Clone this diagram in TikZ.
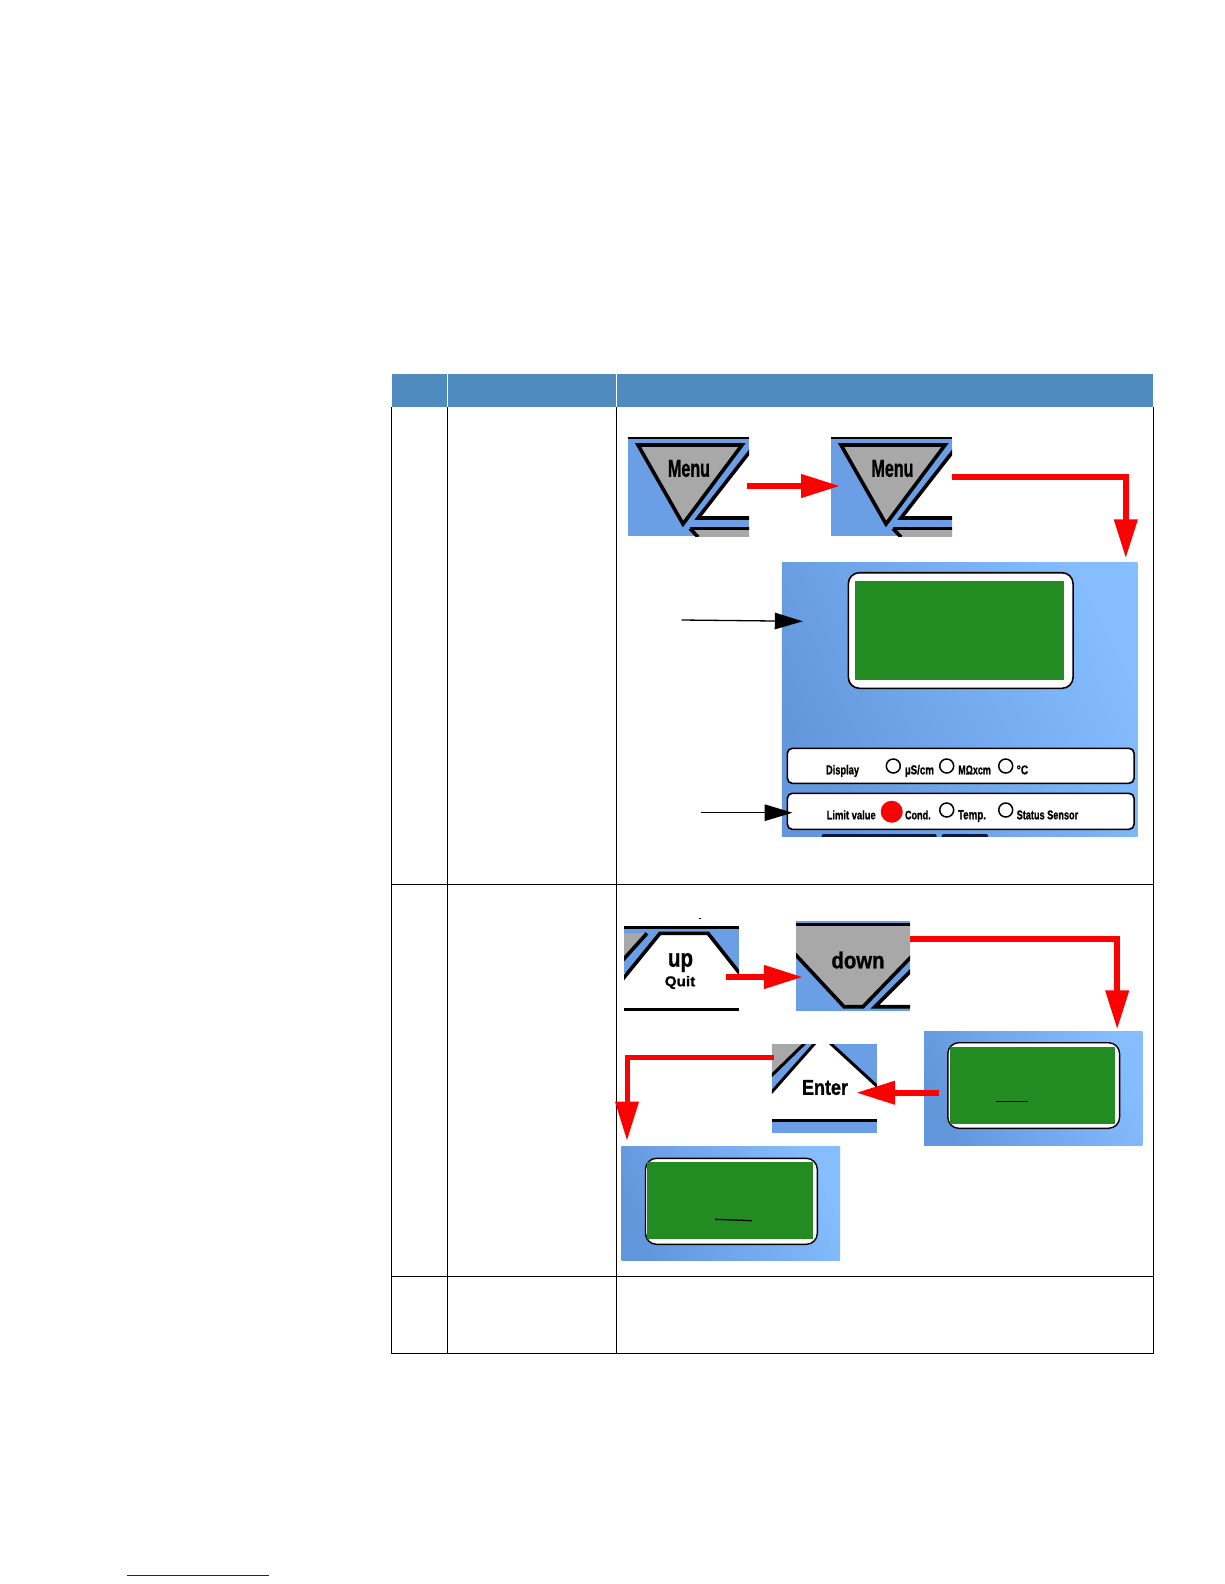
\documentclass[tikz,border=0pt]{standalone}
\usepackage{fontspec}
\setmainfont[BoldFeatures={FakeBold=1.2}]{Liberation Sans}
\usetikzlibrary{arrows.meta}
\definecolor{hdr}{HTML}{4F8BBE}
\definecolor{pb}{HTML}{6A9FE6}
\definecolor{pbA}{HTML}{6397DC}
\definecolor{pbB}{HTML}{70A6F6}
\definecolor{pbC}{HTML}{85BDFF}
\definecolor{gy}{HTML}{A8A8A8}
\definecolor{gn}{HTML}{228B22}
\definecolor{ln}{HTML}{1A1A8C}
\definecolor{stub}{HTML}{101848}
\definecolor{rd}{HTML}{FF0000}
\tikzset{
  every node/.style={inner sep=0pt,outer sep=0pt},
  rule/.style={draw=black,line width=0.9pt},
  panel/.style={shade,left color=pbA,middle color=pbB,right color=pbC,shading angle=115},
  lcd/.style={draw=black,fill=white,line width=1.6pt,rounded corners=11pt},
  lcdgreen/.style={fill=gn},
  bar/.style={draw=black,fill=white,line width=1.6pt,rounded corners=5pt},
  radio/.style={circle,draw=black,fill=none,line width=1.5pt,minimum size=14pt},
  redline/.style={draw=rd,line width=5.8pt,miter limit=10},
  redarrow/.style={redline,-{Triangle[length=39pt,width=22.5pt,fill=rd]}},
  blackarrow/.style={draw=black,line width=1.3pt,-{Triangle[length=28pt,width=16.5pt,fill=black]}},
  key/.style={draw=black,line width=3.6pt,line join=miter},
  lab/.style={text=black,font=\bfseries},
}
\newcommand{\smalltxt}[6]{\node[lab,anchor=base west] (#1) at (#2,#3) {\resizebox*{#4pt}{#5pt}{#6}};}
\newcommand{\bigtxt}[6]{\node[lab] (#1) at (#2,#3) {\resizebox*{#4pt}{#5pt}{#6}};}
\newcommand{\menukey}[1]{%
\begin{scope}[shift={(#1,437)}]
  \clip (0,0) rectangle (121,99);
  \fill[pb] (0,0) rectangle (121,99);
  \fill[black] (0,0) rectangle (121,2);
  \fill[white] (121,16) -- (70,81) -- (121,81) -- cycle;
  \draw[key] (123,13) -- (70,81) -- (123,81);
  \fill[gy] (62,91.5) -- (123,91.5) -- (123,101) -- (70,101) -- cycle;
  \draw[key] (62,91.5) -- (123,91.5);
  \draw[key] (62,91.5) -- (70,100);
  \fill[gy] (10,8) -- (114,8) -- (55,87) -- cycle;
  \draw[key] (10,8) -- (114,8) -- (55,87) -- cycle;
\end{scope}}
\begin{document}
\begin{tikzpicture}[x=1pt,y=-1pt]
\useasboundingbox (0,0) rectangle (1224,1584);
\fill[white] (0,0) rectangle (1224,1584);

% table
\node[fill=hdr,minimum width=761pt,minimum height=33pt] (header) at (772.5,390.5) {};
\coordinate (sepA) at (447.3,374);
\coordinate (sepB) at (616.8,374);
\draw[white,line width=1.3pt] (sepA) -- ++(0,33);
\draw[white,line width=1.3pt] (sepB) -- ++(0,33);
\coordinate (tl) at (391.8,407);
\coordinate (tr) at (1153,407);
\coordinate (bl) at (391.8,1353.5);
\coordinate (br) at (1153,1353.5);
\draw[rule] (tl) -- (bl) -- (br) -- (tr);
\draw[rule] (447.3,407) -- (447.3,1353.5);
\draw[rule] (616.8,407) -- (616.8,1353.5);
\draw[rule] (391.8,884) -- (1153,884);
\draw[rule] (391.8,1276) -- (1153,1276);

% menu keys
\node[minimum width=121pt,minimum height=99pt] (menuA) at (688.5,486.5) {};
\node[minimum width=121pt,minimum height=99pt] (menuB) at (891.5,486.5) {};
\menukey{628}
\menukey{831}
\bigtxt{menuAtxt}{689}{468.5}{42}{17}{Menu}
\bigtxt{menuBtxt}{892.5}{468.5}{42}{17}{Menu}

% main panel
\node[panel,minimum width=355.7pt,minimum height=274.4pt] (panelA) at (959.7,699.5) {};
\fill[stub,rounded corners=2pt] (821.7,834) rectangle (936.7,840);
\fill[stub,rounded corners=2pt] (941.7,834) rectangle (988,840);
\fill[white] (815,836.7) rectangle (995,842);
\node[lcd,minimum width=224.7pt,minimum height=115.6pt] (lcdA) at (960.7,630.5) {};
\node[lcdgreen,minimum width=209.4pt,minimum height=99pt] (greenA) at (959.2,630.5) {};
\node[bar,minimum width=346.7pt,minimum height=35pt] (barA) at (960.7,765.8) {};
\node[bar,minimum width=346.7pt,minimum height=36pt] (barB) at (960.7,811.3) {};
\node[radio] (rA) at (893.3,766) {};
\node[radio] (rB) at (946.7,766) {};
\node[radio] (rC) at (1005.7,766) {};
\node[circle,fill=rd,minimum size=22pt] (rD) at (891.7,811.7) {};
\node[radio] (rE) at (946.7,810) {};
\node[radio] (rF) at (1005.7,810) {};
\smalltxt{tA}{826}{774.3}{33}{12}{Display}
\smalltxt{tB}{905}{774.3}{29}{12}{µS/cm}
\smalltxt{tC}{958.3}{774.3}{32.5}{9}{MΩxcm}
\smalltxt{tD}{1016.7}{774.3}{11.5}{9}{°C}
\smalltxt{tE}{826.7}{819.3}{49}{9}{Limit value}
\smalltxt{tF}{905}{819.3}{25.7}{9}{Cond.}
\smalltxt{tG}{958}{819.3}{28}{12}{Temp.}
\smalltxt{tH}{1016.7}{819.3}{61.5}{9}{Status Sensor}

% up key
\node[minimum width=115pt,minimum height=84pt] (upkey) at (681.5,968) {};
\begin{scope}
  \clip (624,926) rectangle (739,1011);
  \fill[pb] (624,926) rectangle (739,973);
  \fill[white] (624,978) -- (660,933.3) -- (708,933.3) -- (741,975) -- (741,1011) -- (624,1011) -- cycle;
  \fill[white] (624,978) rectangle (739,1008);
  \fill[gy] (622,933.3) -- (646,933.3) -- (622,960) -- cycle;
  \draw[key] (647,933.3) -- (622,961);
  \draw[key] (622,980) -- (660,933.3) -- (708,933.3) -- (741,975);
  \fill[black] (624,926) rectangle (739,928.7);
  \fill[black] (624,1007.7) rectangle (739,1010.7);
\end{scope}
\fill[black] (698.5,917.8) rectangle (700.5,918.8);
\bigtxt{uptxt}{680.5}{962.5}{25}{19}{up}
\bigtxt{quittxt}{680}{982.5}{30.5}{13}{Quit}

% down key
\node[minimum width=114pt,minimum height=89.4pt] (downkey) at (853,966) {};
\begin{scope}
  \clip (796,921.3) rectangle (910,1010.7);
  \fill[pb] (796,921.3) rectangle (910,1010.7);
  \fill[white] (912,971.7) -- (875,1006.7) -- (912,1006.7) -- cycle;
  \draw[key] (912,969.7) -- (875,1006.7) -- (912,1006.7);
  \fill[gy] (794,924) -- (912,924) -- (912,956) -- (863,1006.7) -- (844,1006.7) -- (794,953) -- cycle;
  \draw[key] (794,953) -- (844,1006.7) -- (863,1006.7) -- (912,956);
  \fill[black] (796,923) rectangle (910,926);
\end{scope}
\bigtxt{downtxt}{858}{960}{53}{17}{down}

% second panel
\node[panel,minimum width=218.4pt,minimum height=114pt] (panelB) at (1033.2,1088) {};
\node[lcd,line width=1.4pt,minimum width=171.8pt,minimum height=85.6pt] (lcdB) at (1033.7,1085.5) {};
\node[lcdgreen,minimum width=164.9pt,minimum height=77.6pt] (greenB) at (1032.4,1085.5) {};
\coordinate (dashBa) at (996.4,1101.7);
\coordinate (dashBb) at (1027.7,1101.7);
\draw[black,line width=1.3pt] (dashBa) -- (dashBb);

% enter key
\node[minimum width=105pt,minimum height=88.7pt] (enterkey) at (824.4,1088.3) {};
\begin{scope}
  \clip (771.8,1044) rectangle (876.9,1132.7);
  \fill[pb] (771.8,1044) rectangle (876.9,1132.7);
  \fill[white] (770,1094) -- (816,1042) -- (829,1042) -- (879,1088) -- (879,1120) -- (770,1120) -- cycle;
  \fill[gy] (770,1042) -- (806,1042) -- (770,1076) -- cycle;
  \draw[key,line width=3pt] (806,1042) -- (770,1077);
  \draw[key,line width=3pt] (770,1094) -- (816,1042);
  \draw[key,line width=3pt] (829,1042) -- (879,1088);
  \fill[black] (771.8,1118.7) rectangle (876.9,1122.3);
\end{scope}
\bigtxt{entertxt}{825}{1087.5}{46}{15}{Enter}

% third panel
\node[panel,minimum width=218.6pt,minimum height=113.7pt] (panelC) at (730.7,1203.8) {};
\node[lcd,line width=1.4pt,minimum width=171.8pt,minimum height=86pt] (lcdC) at (731.4,1201.3) {};
\node[lcdgreen,minimum width=166pt,minimum height=77.3pt] (greenC) at (730.2,1200.3) {};
\coordinate (dashCa) at (715,1219.3);
\coordinate (dashCb) at (751.9,1220.7);
\draw[black,line width=1.3pt] (dashCa) -- (dashCb);

% connectors
\coordinate (a1s) at (746.7,486);
\coordinate (a1e) at (840,486);
\draw[redarrow] (a1s) -- (a1e);
\coordinate (a2s) at (952,476.7);
\coordinate (a2c) at (1125.8,476.7);
\coordinate (a2e) at (1125.8,558.3);
\draw[redarrow] (a2s) -- (a2c) -- (a2e);
\coordinate (a3s) at (726,977);
\coordinate (a3e) at (802.8,977);
\draw[redarrow] (a3s) -- (a3e);
\coordinate (a4s) at (910,939);
\coordinate (a4c) at (1117.2,939);
\coordinate (a4e) at (1117.2,1029.3);
\draw[redarrow] (a4s) -- (a4c) -- (a4e);
\coordinate (a5s) at (938.9,1092.7);
\coordinate (a5e) at (856.2,1092.7);
\draw[redarrow] (a5s) -- (a5e);
\coordinate (a6s) at (773.6,1057.3);
\coordinate (a6c) at (627,1057.3);
\coordinate (a6e) at (627,1140.7);
\draw[redarrow,line width=5pt] (a6s) -- (a6c) -- (a6e);

\coordinate (b1s) at (681.6,620);
\coordinate (b1e) at (802.8,621.3);
\draw[blackarrow] (b1s) -- (b1e);
\coordinate (b2s) at (701,812.7);
\coordinate (b2e) at (792.5,812.7);
\draw[blackarrow] (b2s) -- (b2e);

% footer link rule
\coordinate (fA) at (127,1575);
\coordinate (fB) at (269,1575);
\draw[ln,line width=1pt] (fA) -- (fB);
\end{tikzpicture}
\end{document}
